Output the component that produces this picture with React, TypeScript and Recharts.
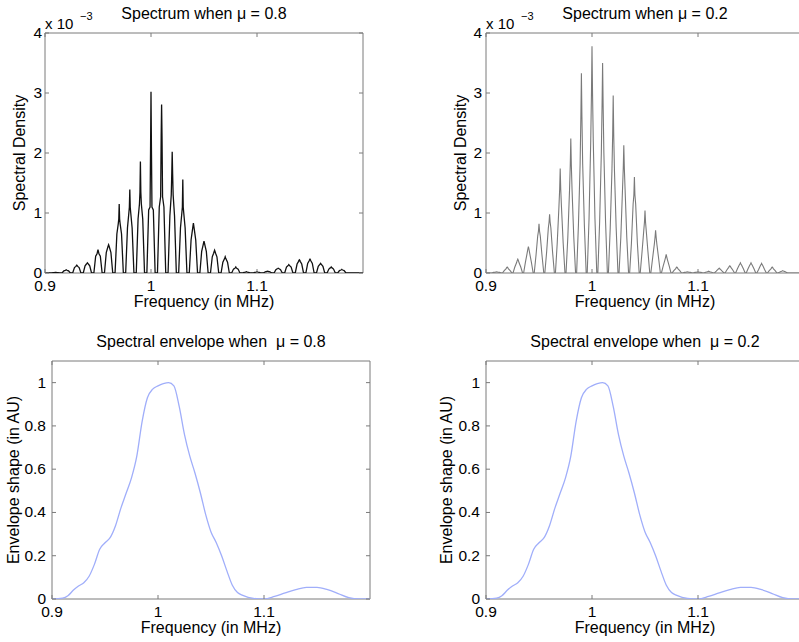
import { LineChart, Line, XAxis, YAxis, ReferenceArea } from 'recharts';

// harmonic positions (MHz) shared by both spectra
const peakFreqs = [
  0.91, 0.92, 0.93, 0.94, 0.95, 0.96, 0.97, 0.98, 0.99, 1.0, 1.01, 1.02, 1.03, 1.04,
  1.05, 1.06, 1.07, 1.08, 1.09, 1.1, 1.11, 1.12, 1.13, 1.14, 1.15, 1.16, 1.17, 1.18,
];

// mu = 0.8 spectrum, units of 1e-3
const peak08 = [0.01, 0.055, 0.13, 0.17, 0.39, 0.47, 1.15, 1.39, 1.86, 3.02, 2.81, 2.02, 1.56, 0.83, 0.53, 0.38, 0.27, 0.1, 0.02, 0.02, 0.03, 0.08, 0.14, 0.22, 0.23, 0.16, 0.1, 0.06];
const body08 = [0.006, 0.035, 0.09, 0.12, 0.28, 0.34, 0.65, 0.75, 0.9, 1.05, 1.1, 0.95, 0.75, 0.55, 0.36, 0.27, 0.18, 0.065, 0.012, 0.012, 0.02, 0.055, 0.1, 0.15, 0.16, 0.11, 0.065, 0.04];
const shoulder08 = [0.008, 0.045, 0.11, 0.15, 0.32, 0.42, 0.82, 1.0, 1.15, 1.1, 1.27, 1.3, 1.0, 0.72, 0.46, 0.33, 0.23, 0.08, 0.015, 0.015, 0.025, 0.07, 0.12, 0.19, 0.2, 0.14, 0.085, 0.05];
const neck08 = [0.009, 0.05, 0.12, 0.16, 0.36, 0.45, 0.9, 1.1, 1.35, 2.1, 2.27, 1.66, 1.1, 0.78, 0.5, 0.36, 0.25, 0.09, 0.018, 0.018, 0.028, 0.075, 0.13, 0.21, 0.22, 0.15, 0.09, 0.055];

// mu = 0.2 spectrum, units of 1e-3
const peak02 = [0.02, 0.1, 0.23, 0.44, 0.82, 0.98, 1.74, 2.24, 3.33, 3.78, 3.5, 2.96, 2.13, 1.6, 1.04, 0.71, 0.31, 0.1, 0.02, 0.02, 0.03, 0.08, 0.12, 0.17, 0.17, 0.16, 0.1, 0.04];
const body02 = [0.01, 0.04, 0.1, 0.18, 0.3, 0.35, 0.5, 0.6, 0.8, 0.9, 0.85, 0.75, 0.6, 0.5, 0.35, 0.25, 0.12, 0.04, 0.01, 0.01, 0.012, 0.03, 0.05, 0.07, 0.07, 0.06, 0.04, 0.015];
const shoulder02 = [0.015, 0.07, 0.17, 0.33, 0.62, 0.75, 1.1, 1.38, 1.82, 2.2, 2.0, 1.7, 1.4, 1.15, 0.7, 0.48, 0.22, 0.07, 0.015, 0.015, 0.02, 0.06, 0.09, 0.13, 0.13, 0.12, 0.07, 0.03];
const neck02 = [0.018, 0.09, 0.21, 0.4, 0.7, 0.85, 1.4, 1.8, 2.6, 3.0, 2.8, 2.3, 1.75, 1.3, 0.85, 0.6, 0.27, 0.09, 0.018, 0.018, 0.026, 0.07, 0.11, 0.15, 0.15, 0.14, 0.09, 0.035];

// spectral envelope (same for both mu)
const envFreqs = [
  0.9, 0.91, 0.915, 0.92, 0.925, 0.93, 0.935, 0.94, 0.945, 0.95, 0.955, 0.96, 0.965, 0.97,
  0.975, 0.98, 0.985, 0.99, 0.995, 1.0, 1.005, 1.01, 1.015, 1.02, 1.025, 1.03, 1.035, 1.04,
  1.045, 1.05, 1.055, 1.06, 1.065, 1.07, 1.075, 1.08, 1.09, 1.1, 1.11, 1.12, 1.13, 1.14,
  1.15, 1.16, 1.17, 1.18, 1.19, 1.2,
];
const envValues = [
  0, 0.004, 0.015, 0.04, 0.06, 0.075, 0.105, 0.16, 0.23, 0.26, 0.285, 0.34, 0.42, 0.49,
  0.56, 0.66, 0.82, 0.93, 0.97, 0.985, 0.995, 1.0, 0.985, 0.89, 0.76, 0.66, 0.58, 0.49,
  0.39, 0.31, 0.26, 0.2, 0.13, 0.065, 0.03, 0.017, 0.003, 0, 0.012, 0.028, 0.043, 0.054,
  0.054, 0.043, 0.025, 0.006, 0, 0,
];

const xTicks = [0.9, 1, 1.1];
const specTicks = [0, 1, 2, 3, 4];
const envTicks = [0, 0.2, 0.4, 0.6, 0.8, 1];

const AXIS = '#7a7a7a';
const FONT = '"Liberation Sans", Arial, Helvetica, sans-serif';

const offsets08 = [-0.0039, -0.0022, -0.0009, -0.0004, 0, 0.0004, 0.0009, 0.0022, 0.0039];
const offsets02 = [-0.0045, -0.0028, -0.0012, -0.0005, 0, 0.0005, 0.0012, 0.0028, 0.0045];

function buildSpectrum(offs: number[], peak: number[], body: number[], sh: number[], neck: number[]) {
  const pts = [{ f: 0.9, v: 0 }];
  peakFreqs.forEach((f, i) => {
    const vals = [0, body[i], sh[i], neck[i], peak[i], neck[i], sh[i], body[i], 0];
    offs.forEach((o, j) => pts.push({ f: f + o, v: vals[j] }));
  });
  pts.push({ f: 1.2, v: 0 });
  return pts;
}

const spec08 = buildSpectrum(offsets08, peak08, body08, shoulder08, neck08);
const spec02 = buildSpectrum(offsets02, peak02, body02, shoulder02, neck02);
const envData = envFreqs.map((f, i) => ({ f, v: envValues[i] }));

const PW = 318;

function Panel({ left, top, h, data, yMax, yTicks, color, width, gap, curve }: any) {
  const XTick = (p: any) => (
    <g>
      <line x1={p.x} y1={p.y} x2={p.x} y2={p.y - 4} stroke={AXIS} />
      <line x1={p.x} y1={p.y - h} x2={p.x} y2={p.y - h + 4} stroke={AXIS} />
      <text x={p.x} y={p.y + 18} textAnchor='middle' fontSize={15.5} fill='#000' fontFamily={FONT}>
        {String(p.payload.value)}
      </text>
    </g>
  );
  const YTick = (p: any) => (
    <g>
      <line x1={p.x} y1={p.y} x2={p.x + 4} y2={p.y} stroke={AXIS} />
      <line x1={p.x + PW} y1={p.y} x2={p.x + PW - 4} y2={p.y} stroke={AXIS} />
      <text x={p.x - gap} y={p.y + 5} textAnchor='end' fontSize={15.5} fill='#000' fontFamily={FONT}>
        {String(p.payload.value)}
      </text>
    </g>
  );
  return (
    <div style={{ position: 'absolute', left: left - 60, top: top - 40 }}>
      <LineChart width={60 + PW + 10} height={40 + h + 50} data={data} margin={{ top: 40, right: 10, bottom: 0, left: 0 }}>
        <XAxis
          dataKey='f'
          type='number'
          domain={[0.9, 1.2]}
          ticks={xTicks}
          allowDataOverflow
          height={50}
          axisLine={false}
          tickLine={false}
          tickSize={0}
          tickMargin={0}
          interval={0}
          tick={XTick}
        />
        <YAxis
          type='number'
          domain={[0, yMax]}
          ticks={yTicks}
          allowDataOverflow
          width={60}
          axisLine={false}
          tickLine={false}
          tickSize={0}
          tickMargin={0}
          interval={0}
          tick={YTick}
        />
        <ReferenceArea x1={0.9} x2={1.2} y1={0} y2={yMax} fill='none' stroke={AXIS} strokeWidth={1} ifOverflow='visible' />
        <Line
          type={curve}
          dataKey='v'
          stroke={color}
          strokeWidth={width}
          dot={false}
          activeDot={false}
          isAnimationActive={false}
        />
      </LineChart>
    </div>
  );
}

function Labels() {
  const t = { fontFamily: FONT, fontSize: 16, fill: '#000' } as const;
  return (
    <svg width={820} height={642} style={{ position: 'absolute', left: 0, top: 0, pointerEvents: 'none' }}>
      <text {...t} x={204} y={18.5} textAnchor='middle'>Spectrum when μ = 0.8</text>
      <text {...t} x={645} y={18.5} textAnchor='middle'>Spectrum when μ = 0.2</text>
      <text {...t} x={211} y={347} textAnchor='middle' style={{ whiteSpace: 'pre' }}>Spectral envelope when  μ = 0.8</text>
      <text {...t} x={645} y={347} textAnchor='middle' style={{ whiteSpace: 'pre' }}>Spectral envelope when  μ = 0.2</text>

      <text {...t} x={204} y={307} textAnchor='middle'>Frequency (in MHz)</text>
      <text {...t} x={645} y={307} textAnchor='middle'>Frequency (in MHz)</text>
      <text {...t} x={211} y={633} textAnchor='middle'>Frequency (in MHz)</text>
      <text {...t} x={645} y={633} textAnchor='middle'>Frequency (in MHz)</text>

      <text {...t} transform='translate(24.5,153) rotate(-90)' textAnchor='middle'>Spectral Density</text>
      <text {...t} transform='translate(466,153) rotate(-90)' textAnchor='middle'>Spectral Density</text>
      <text {...t} transform='translate(18.5,480) rotate(-90)' textAnchor='middle'>Envelope shape (in AU)</text>
      <text {...t} transform='translate(451.5,480) rotate(-90)' textAnchor='middle'>Envelope shape (in AU)</text>

      <text fontFamily={FONT} fontSize={15} x={45} y={29}>x 10</text>
      <text fontFamily={FONT} fontSize={11} x={80} y={20}>−3</text>
      <text fontFamily={FONT} fontSize={15} x={486} y={29}>x 10</text>
      <text fontFamily={FONT} fontSize={11} x={521} y={20}>−3</text>
    </svg>
  );
}

export default function App() {
  return (
    <div
      style={{
        position: 'absolute',
        left: 0,
        top: 0,
        width: 799,
        height: 642,
        overflow: 'hidden',
        background: '#fff',
        fontFamily: FONT,
      }}
    >
      <Panel left={45} top={33} h={240} data={spec08} yMax={4} yTicks={specTicks} color='#111' width={1.3} gap={3} curve='linear' />
      <Panel left={486} top={33} h={240} data={spec02} yMax={4} yTicks={specTicks} color='#7a7a7a' width={1.1} gap={4} curve='linear' />
      <Panel left={52} top={361} h={238} data={envData} yMax={1.1} yTicks={envTicks} color='#a0aefa' width={1.3} gap={6} curve='monotone' />
      <Panel left={486} top={361} h={238} data={envData} yMax={1.1} yTicks={envTicks} color='#a0aefa' width={1.3} gap={6} curve='monotone' />
      <Labels />
    </div>
  );
}
